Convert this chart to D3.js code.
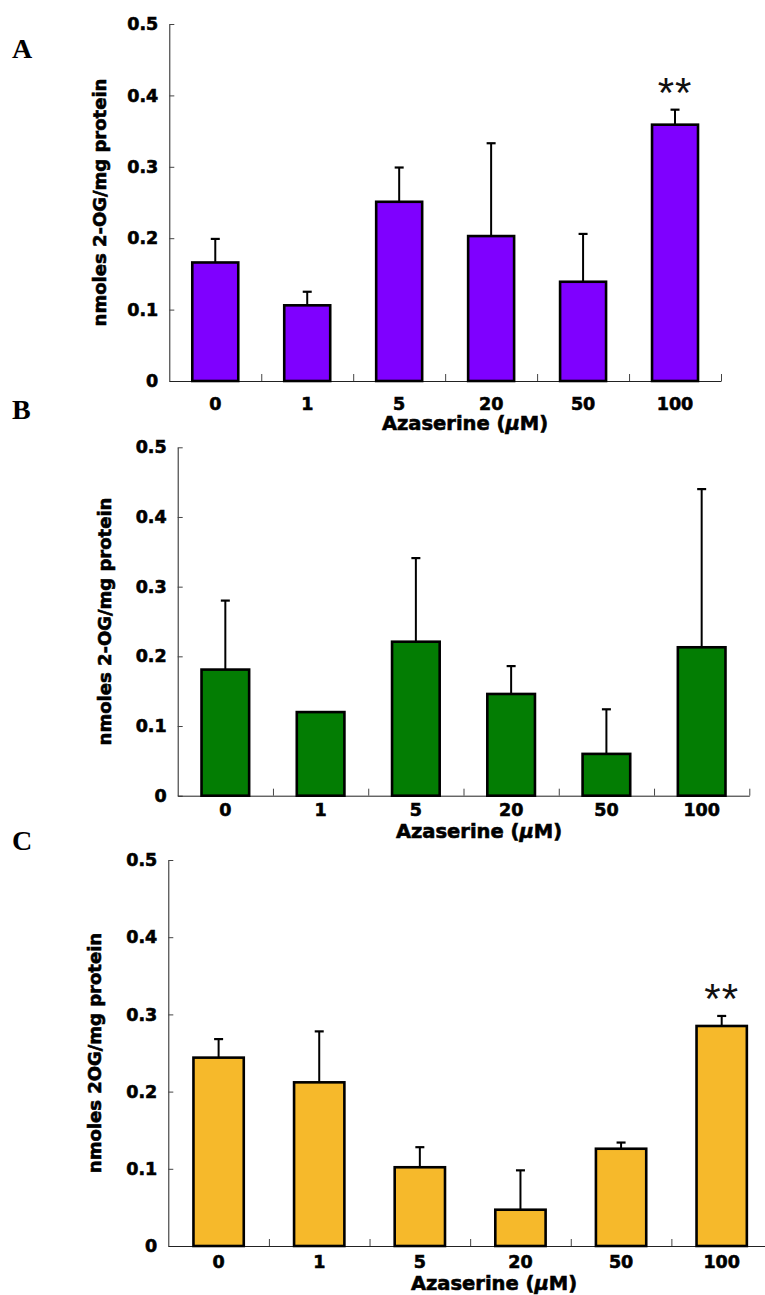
<!DOCTYPE html>
<html>
<head>
<meta charset="utf-8">
<script src="https://cdn.jsdelivr.net/npm/d3@7"></script>
<style>
  body { margin: 0; background: #fff; }
  svg { display: block; }
</style>
</head>
<body>
<svg id="fig" width="765" height="1295"></svg>
<script>
// doses shared by all three panels
const doses = ["0", "1", "5", "20", "50", "100"];
const yTicks = [0, 0.1, 0.2, 0.3, 0.4, 0.5];

// panel A
const meanA = [0.166, 0.106, 0.251, 0.203, 0.139, 0.359];
const errA  = [0.033, 0.019, 0.048, 0.130, 0.067, 0.021];
const starsA = ["", "", "", "", "", "**"];

// panel B
const meanB = [0.181, 0.120, 0.221, 0.146, 0.060, 0.213];
const errB  = [0.099, null, 0.120, 0.040, 0.064, 0.227];
const starsB = ["", "", "", "", "", ""];

// panel C
const meanC = [0.244, 0.212, 0.102, 0.047, 0.126, 0.285];
const errC  = [0.024, 0.066, 0.026, 0.051, 0.008, 0.013];
const starsC = ["", "", "", "", "", "**"];

const svg = d3.select("#fig");
const sans = "'DejaVu Sans', sans-serif";

// heavy sans look (the original uses a black-weight face)
function heavy(sel, size) {
  sel.attr("font-family", sans)
    .attr("font-weight", "bold")
    .attr("font-size", size)
    .attr("fill", "#000")
    .attr("stroke", "#000")
    .attr("stroke-width", 0.6);
}

function drawPanel(p) {
  const g = svg.append("g");

  const x = d3.scaleBand()
    .domain(doses)
    .range([p.left, p.right])
    .paddingInner(0.5)
    .paddingOuter(0.25);

  const y = d3.scaleLinear()
    .domain([0, 0.5])
    .range([p.bottom, p.top]);

  // category separators on the x axis
  const sep = d3.scaleLinear().domain([0, doses.length]).range([p.left, p.right]);

  const rows = doses.map((d, i) => ({ dose: d, mean: p.mean[i], err: p.err[i], star: p.stars[i] }));

  // y axis
  const yAxis = g.append("g")
    .attr("transform", `translate(${p.left},0)`)
    .call(d3.axisLeft(y).tickValues(yTicks).tickSize(-5).tickSizeOuter(0).tickPadding(11)
      .tickFormat(d => d === 0 ? "0" : d3.format(".1f")(d)));
  yAxis.select(".domain").attr("stroke", "#222");
  yAxis.selectAll(".tick line").attr("stroke", "#444");
  yAxis.selectAll("text").call(heavy, 17.5);

  // x axis line + separator ticks
  const sepAxis = g.append("g")
    .attr("transform", `translate(0,${p.bottom})`)
    .call(d3.axisBottom(sep).tickValues(d3.range(1, doses.length + 1)).tickSize(-7).tickSizeOuter(0).tickFormat(""));
  sepAxis.select(".domain").attr("stroke", "#222");
  sepAxis.selectAll(".tick line").attr("stroke", "#444");

  // dose labels
  const xAxis = g.append("g")
    .attr("transform", `translate(0,${p.bottom})`)
    .call(d3.axisBottom(x).tickSize(0).tickPadding(p.labelPad));
  xAxis.select(".domain").remove();
  xAxis.selectAll("text").call(heavy, 17.5);

  // error bars (drawn first so bar outline sits on top)
  const eb = rows.filter(r => r.err != null);
  g.selectAll(".err")
    .data(eb)
    .join("line")
    .attr("x1", d => x(d.dose) + x.bandwidth() / 2)
    .attr("x2", d => x(d.dose) + x.bandwidth() / 2)
    .attr("y1", d => y(d.mean))
    .attr("y2", d => y(d.mean + d.err))
    .attr("stroke", "#000")
    .attr("stroke-width", 2);
  g.selectAll(".cap")
    .data(eb)
    .join("line")
    .attr("x1", d => x(d.dose) + x.bandwidth() / 2 - 4.5)
    .attr("x2", d => x(d.dose) + x.bandwidth() / 2 + 4.5)
    .attr("y1", d => y(d.mean + d.err))
    .attr("y2", d => y(d.mean + d.err))
    .attr("stroke", "#000")
    .attr("stroke-width", 2.2);

  // bars
  g.selectAll(".bar")
    .data(rows)
    .join("rect")
    .attr("x", d => x(d.dose))
    .attr("y", d => y(d.mean))
    .attr("width", x.bandwidth())
    .attr("height", d => y(0) - y(d.mean))
    .attr("fill", p.color)
    .attr("stroke", "#000")
    .attr("stroke-width", 2.6);

  // significance marks
  g.selectAll(".star")
    .data(rows.filter(r => r.star))
    .join("text")
    .attr("x", d => x(d.dose) + x.bandwidth() / 2)
    .attr("y", d => y(d.mean + d.err) - 3)
    .attr("text-anchor", "middle")
    .attr("font-family", "'Liberation Sans', Arial, sans-serif")
    .attr("font-size", 42)
    .attr("letter-spacing", 1)
    .attr("fill", "#111")
    .text(d => d.star);

  // axis titles
  g.append("text")
    .attr("transform", `translate(${p.yLabelX},${(p.top + p.bottom) / 2}) rotate(-90)`)
    .attr("text-anchor", "middle")
    .attr("dy", "0.35em")
    .call(heavy, 18)
    .text(p.yLabel);

  const xt = g.append("text")
    .attr("x", p.xLabelX)
    .attr("y", p.xLabelY)
    .attr("text-anchor", "middle")
    .call(heavy, 19.5);
  xt.append("tspan").text("Azaserine (");
  xt.append("tspan").attr("font-style", "italic").text("\u03bc");
  xt.append("tspan").text("M)");

  // panel letter
  g.append("text")
    .attr("x", 12)
    .attr("y", p.letterY)
    .attr("font-family", "'Liberation Serif', 'Times New Roman', serif")
    .attr("font-weight", "bold")
    .attr("font-size", 28)
    .text(p.letter);
}

drawPanel({
  letter: "A", letterY: 58,
  left: 169.3, right: 721, top: 24, bottom: 381,
  mean: meanA, err: errA, stars: starsA, color: "#7f00ff",
  labelPad: 17, yLabel: "nmoles 2-OG/mg protein", yLabelX: 100,
  xLabelX: 465, xLabelY: 430
});

drawPanel({
  letter: "B", letterY: 419,
  left: 177.7, right: 749.3, top: 447.3, bottom: 795.7,
  mean: meanB, err: errB, stars: starsB, color: "#037d03",
  labelPad: 8, yLabel: "nmoles 2-OG/mg protein", yLabelX: 105,
  xLabelX: 479, xLabelY: 837.5
});

drawPanel({
  letter: "C", letterY: 850,
  left: 168.3, right: 772, top: 860, bottom: 1246,
  mean: meanC, err: errC, stars: starsC, color: "#f6b92b",
  labelPad: 10, yLabel: "nmoles 2OG/mg protein", yLabelX: 95,
  xLabelX: 494, xLabelY: 1290
});
</script>
</body>
</html>
